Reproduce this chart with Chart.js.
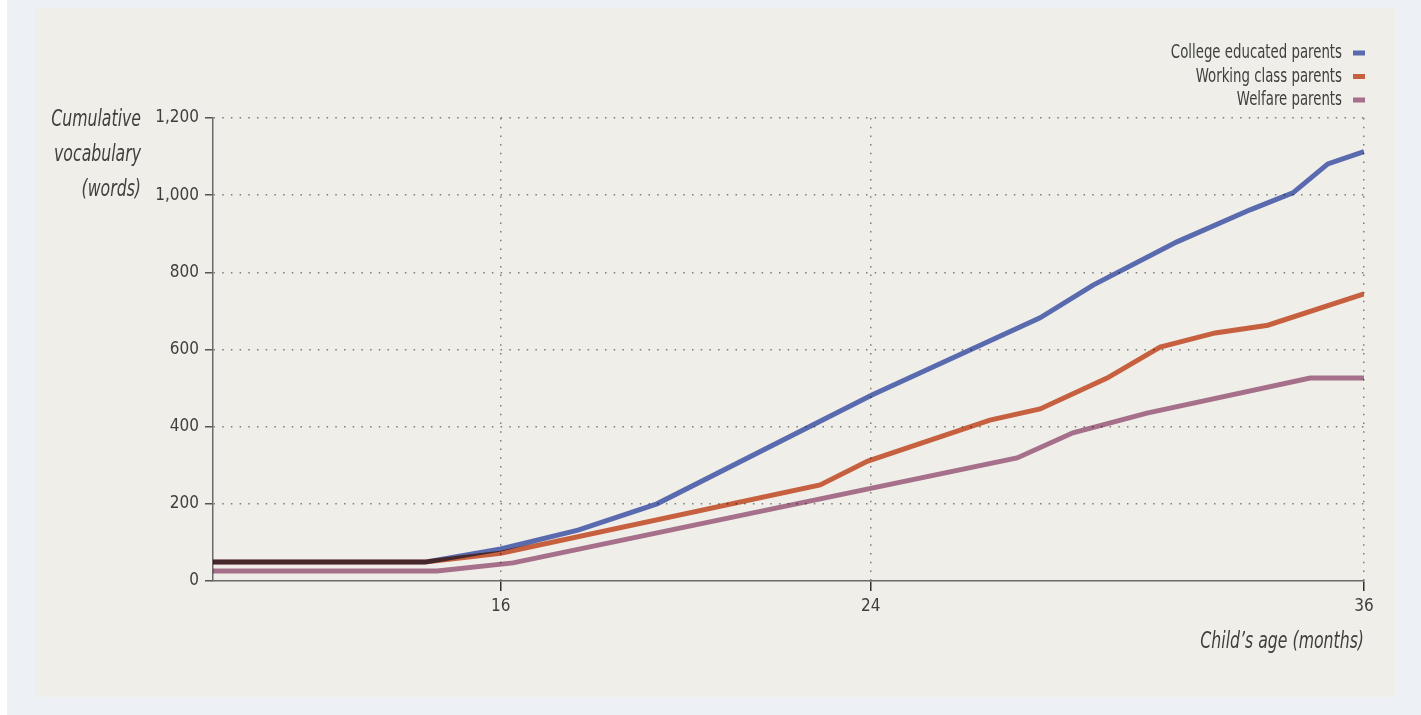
<!DOCTYPE html>
<html>
<head>
<meta charset="utf-8">
<script src="https://cdn.jsdelivr.net/npm/chart.js@4.4.1/dist/chart.umd.min.js"></script>
<style>
  body { margin: 0; background: #ffffff; }
  .outer { position: absolute; left: 7px; top: 0; width: 1414px; height: 715px; background: #edf1f5; }
  .panel { position: absolute; left: 35px; top: 8px; width: 1360px; height: 689px; background: #efeee9; }
  .wrap { position: absolute; left: 0; top: 0; width: 1421px; height: 715px; }
</style>
</head>
<body>
<div class="outer"></div>
<div class="panel"></div>
<div class="wrap"><canvas id="chart"></canvas></div>
<script>
// positions along the age axis (axis steps) and tick labels
const ageTicks = [7, 16, 28];
const ageTickLabels = ['16', '24', '36'];

const seriesNames = ['College educated parents', 'Working class parents', 'Welfare parents'];
const seriesColors = ['#5a6aae', '#c6603f', '#a6708a'];

const collegeAge = [0, 5.16, 7.0, 8.88, 10.8, 16.03, 20.12, 21.41, 23.45, 25.23, 26.27, 27.12, 28];
const collegeWords = [49, 49, 83, 132, 200, 482, 682, 767, 879, 962, 1006, 1081, 1113];

const workingAge = [0, 5.16, 7.0, 14.77, 15.93, 18.9, 20.12, 21.75, 23.04, 24.38, 25.66, 28];
const workingWords = [49, 49, 72, 249, 311, 417, 446, 526, 606, 643, 663, 744];

const welfareAge = [0, 5.45, 7.3, 19.56, 20.92, 22.72, 26.69, 28];
const welfareWords = [26, 26, 47, 319, 384, 435, 526, 526];

const yTitle = ['Cumulative', 'vocabulary', '(words)'];
const xTitle = 'Child\u2019s age (months)';

const FONT = '"Liberation Sans Narrow", "DejaVu Sans Condensed", sans-serif';
const TEXT = '#3f3f3f';
const DOTS = '#7d7d79';

function toPoints(xs, ys) {
    return xs.map((x, i) => ({ x: x, y: ys[i] }));
}

// squeeze text sideways, the original uses a condensed face
function squeezed(ctx, text, x, y, sx) {
    ctx.save();
    ctx.translate(x, y);
    ctx.scale(sx, 1);
    ctx.fillText(text, 0, 0);
    ctx.restore();
}

// lines blend like ink where they overlap
const multiplyLines = {
    id: 'multiplyLines',
    beforeDatasetsDraw(chart) {
        chart.ctx.save();
        chart.ctx.globalCompositeOperation = 'multiply';
    },
    afterDatasetsDraw(chart) {
        chart.ctx.restore();
    }
};

// axis titles + legend drawn as text
const annotate = {
    id: 'annotate',
    afterDraw(chart) {
        const ctx = chart.ctx;
        const a = chart.chartArea;
        ctx.save();
        ctx.fillStyle = TEXT;
        ctx.textAlign = 'right';
        ctx.textBaseline = 'alphabetic';

        ctx.font = 'italic 23px ' + FONT;
        yTitle.forEach((t, i) => squeezed(ctx, t, a.left - 72, a.top + 8 + i * 35, 0.76));
        squeezed(ctx, xTitle, a.right, a.bottom + 67, 0.76);

        ctx.font = '20px ' + FONT;
        chart.data.datasets.forEach((ds, i) => {
            const base = a.top - 60 + i * 23.5;
            ctx.fillStyle = TEXT;
            squeezed(ctx, ds.label, a.right - 22, base, 0.74);
            ctx.fillStyle = ds.borderColor;
            ctx.fillRect(a.right - 11, base - 7.5, 12, 5);
        });
        ctx.restore();
    }
};

const ctx = document.getElementById('chart').getContext('2d');
new Chart(ctx, {
    type: 'line',
    data: {
        datasets: [
            { label: seriesNames[0], data: toPoints(collegeAge, collegeWords), borderColor: seriesColors[0] },
            { label: seriesNames[1], data: toPoints(workingAge, workingWords), borderColor: seriesColors[1] },
            { label: seriesNames[2], data: toPoints(welfareAge, welfareWords), borderColor: seriesColors[2] }
        ]
    },
    options: {
        responsive: true,
        maintainAspectRatio: false,
        animation: false,
        layout: { padding: { left: 0, top: 118, right: 57, bottom: 94 } },
        elements: {
            line: { borderWidth: 5, tension: 0, fill: false },
            point: { radius: 0, hoverRadius: 0 }
        },
        plugins: {
            legend: { display: false },
            tooltip: { enabled: false }
        },
        scales: {
            x: {
                type: 'linear',
                min: 0,
                max: 28,
                afterBuildTicks: (s) => { s.ticks = ageTicks.map(v => ({ value: v })); },
                afterFit: (s) => { s.height = 40; },
                ticks: {
                    autoSkip: false,
                    maxRotation: 0,
                    padding: 5,
                    color: TEXT,
                    font: { family: FONT, size: 17 },
                    callback: (v) => ageTickLabels[ageTicks.indexOf(v)]
                },
                grid: {
                    color: DOTS,
                    lineWidth: 1.5,
                    tickColor: '#2f2f2f',
                    tickWidth: 1.5,
                    tickLength: 10
                },
                border: { color: '#6a6a6a', width: 1.5, dash: [1.5, 7.2] }
            },
            y: {
                min: 0,
                max: 1200,
                afterFit: (s) => { s.width = 213; },
                ticks: {
                    stepSize: 200,
                    padding: 6,
                    color: TEXT,
                    font: { family: FONT, size: 17 },
                    callback: (v) => v.toLocaleString('en-US')
                },
                grid: {
                    color: (c) => c.tick && c.tick.value === 0 ? 'rgba(0,0,0,0)' : DOTS,
                    lineWidth: 1.5,
                    tickColor: '#555555',
                    tickWidth: 1.5,
                    tickLength: 8
                },
                border: { color: '#6a6a6a', width: 1.5, dash: [1.5, 7.2] }
            }
        }
    },
    plugins: [multiplyLines, annotate]
});
</script>
</body>
</html>
